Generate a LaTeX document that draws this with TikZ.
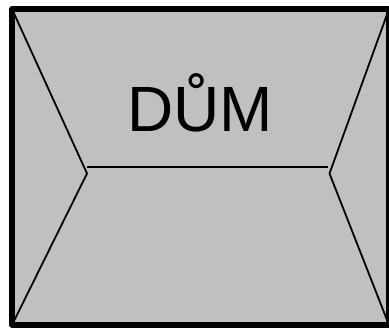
\documentclass[tikz,border=0pt]{standalone}
\usepackage{fontspec}
\setmainfont{Liberation Sans}
\usetikzlibrary{positioning}
\definecolor{Roof}{HTML}{C0C0C0}
\tikzset{
  outline/.style={draw=black,fill=Roof,line width=5.5pt,line join=round},
  hip/.style={draw=black,line width=1.8pt},
  housename/.style={inner sep=0pt,font=\fontsize{64}{70}\selectfont,anchor=base}
}
\begin{document}
\begin{tikzpicture}[x=1pt,y=-1pt]
  \useasboundingbox (0,0) rectangle (389,328);
  \clip (0,0) rectangle (389,328);
  \coordinate (nw) at (12,9);
  \coordinate (ne) at (389,9);
  \coordinate (sw) at (12,325);
  \coordinate (se) at (389,325);
  \coordinate (west) at (87,173.5);
  \coordinate (east) at (329.5,173.5);
  \coordinate (ridgew) at (87,167);
  \coordinate (ridgee) at (328,167);
  \draw[outline] (nw) rectangle (se);
  \draw[hip] (nw) -- (west) -- (sw);
  \draw[hip] (ne) -- (east) -- (se);
  \draw[hip] (ridgew) -- (ridgee);
  \node[housename] (name) at (200,131.5) {DŮM};
\end{tikzpicture}
\end{document}
